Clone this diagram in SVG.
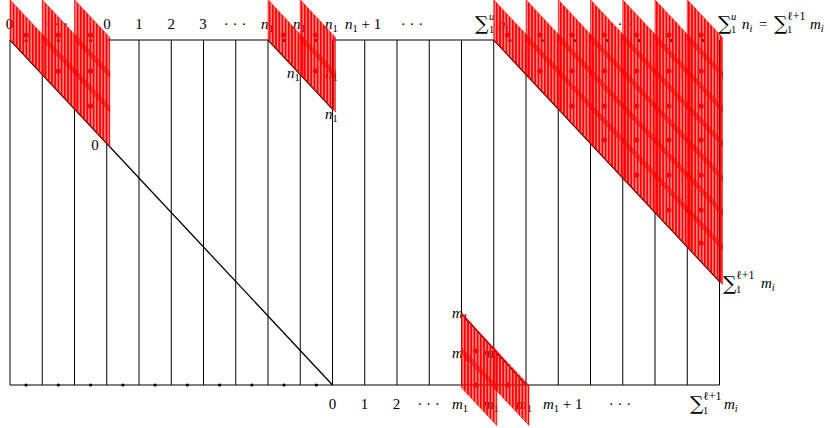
<svg xmlns="http://www.w3.org/2000/svg" width="830" height="428" viewBox="0 0 830 428">
<style>
.ln{stroke:#000;stroke-width:1;fill:none}
.dg{stroke:#000;stroke-width:1.3;fill:none}
.t{font-family:"Liberation Serif","Times New Roman",serif;font-size:15px;fill:#000}
.m{text-anchor:middle}
.i{font-style:italic}
.s{font-size:10.5px}
.sg{font-family:"DejaVu Serif",serif;font-size:19px}
.ds{font-family:"Liberation Serif","DejaVu Serif",serif;font-size:12px}
.cell{fill:url(#vs);stroke:#f00;stroke-width:0.6}
.rd{fill:#f00}
.bd{fill:#000}
</style>
<defs>
<pattern id="vs" patternUnits="userSpaceOnUse" width="3.2" height="4">
<rect width="3.2" height="4" fill="#f00" fill-opacity="0.5"/>
<rect width="1.6" height="4" fill="#f00"/>
</pattern>
</defs>
<rect width="830" height="428" fill="#fff"/>
<g id="connectors">
<path class="ln" d="M10,40V385 M42.25,74.5V385 M74.5,109V385 M106.75,40V385 M139,40V385 M171.25,40V385 M203.5,40V385 M235.75,40V385 M268,40V385 M300.25,74.5V385 M332.5,40V385 M364.75,40V385 M397,40V385 M429.25,40V385 M461.5,40V385 M493.75,40V385 M526,74.5V385 M558.25,109V385 M590.5,143.5V385 M622.75,178V385 M655,212.5V385 M687.25,247V385 M719.5,40V385"/>
<path class="ln" d="M106.75,40H268 M332.5,40H493.75 M10,385H719.5"/>
<path class="dg" d="M10,40L332.5,385 M268,40L332.5,109 M493.75,40L719.5,281.5 M461.5,313.5L526,385"/>
</g>
<g id="black-dots" class="bd">
<circle cx="26.1" cy="385" r="1.6"/><circle cx="58.35" cy="385" r="1.6"/><circle cx="90.6" cy="385" r="1.6"/><circle cx="122.85" cy="385" r="1.6"/><circle cx="155.1" cy="385" r="1.6"/><circle cx="187.35" cy="385" r="1.6"/><circle cx="219.6" cy="385" r="1.6"/><circle cx="251.85" cy="385" r="1.6"/><circle cx="284.1" cy="385" r="1.6"/><circle cx="316.35" cy="385" r="1.6"/>
<circle cx="26.1" cy="40.5" r="1.6"/><circle cx="58.35" cy="40.5" r="1.6"/><circle cx="90.6" cy="40.5" r="1.6"/><circle cx="284.1" cy="40.5" r="1.6"/><circle cx="316.35" cy="40.5" r="1.6"/>
<circle cx="509.9" cy="40.5" r="1.6"/><circle cx="542.15" cy="40.5" r="1.6"/><circle cx="574.4" cy="40.5" r="1.6"/><circle cx="606.65" cy="40.5" r="1.6"/><circle cx="638.9" cy="40.5" r="1.6"/><circle cx="671.15" cy="40.5" r="1.6"/><circle cx="703.4" cy="40.5" r="1.6"/>
</g>
<g id="labels">
<text class="t m" x="9.5" y="29">0</text>
<text class="t m" x="57" y="29">· · ·</text>
<text class="t m" x="107" y="29">0</text>
<text class="t m" x="139" y="29">1</text>
<text class="t m" x="171.25" y="29">2</text>
<text class="t m" x="203" y="29">3</text>
<text class="t m" x="235" y="29">· · ·</text>
<text class="t" x="261" y="29"><tspan class="i">n</tspan><tspan class="s" dy="3">1</tspan></text>
<text class="t" x="293" y="29"><tspan class="i">n</tspan><tspan class="s" dy="3">1</tspan></text>
<text class="t" x="325" y="29"><tspan class="i">n</tspan><tspan class="s" dy="3">1</tspan></text>
<text class="t" x="345" y="29"><tspan class="i">n</tspan><tspan class="s" dy="3">1</tspan><tspan dy="-3"> + 1</tspan></text>
<text class="t m" x="412" y="29">· · ·</text>
<text class="t sg" x="475" y="30">∑</text>
<text class="t s i" x="489" y="20">u</text>
<text class="t s" x="489" y="33">1</text>
<text class="t" x="498" y="29"><tspan class="i">n</tspan><tspan class="s i" dy="3">i</tspan></text>
<text class="t m" x="620" y="29">· · ·</text>
<text class="t sg" x="718" y="30">∑</text>
<text class="t s i" x="731" y="20">u</text>
<text class="t s" x="731" y="33">1</text>
<text class="t" x="742" y="29"><tspan class="i">n</tspan><tspan class="s i" dy="3">i</tspan></text>
<text class="t" x="759" y="29">=</text>
<text class="t sg" x="774" y="30">∑</text>
<text class="t ds" x="787" y="20">ℓ+1</text>
<text class="t s" x="787" y="33">1</text>
<text class="t" x="810" y="29"><tspan class="i">m</tspan><tspan class="s i" dy="3">i</tspan></text>
<text class="t m" x="95" y="150">0</text>
<text class="t" x="287" y="78"><tspan class="i">n</tspan><tspan class="s" dy="3">1</tspan></text>
<text class="t" x="325" y="78"><tspan class="i">n</tspan><tspan class="s" dy="3">1</tspan></text>
<text class="t" x="325" y="119"><tspan class="i">n</tspan><tspan class="s" dy="3">1</tspan></text>
<text class="t sg" x="723" y="290">∑</text>
<text class="t ds" x="736" y="279">ℓ+1</text>
<text class="t s" x="736" y="293">1</text>
<text class="t" x="761" y="288"><tspan class="i">m</tspan><tspan class="s i" dy="3">i</tspan></text>
<text class="t" x="452" y="318"><tspan class="i">m</tspan><tspan class="s" dy="3">1</tspan></text>
<text class="t" x="452" y="358"><tspan class="i">m</tspan><tspan class="s" dy="3">1</tspan></text>
<text class="t" x="483" y="358"><tspan class="i">m</tspan><tspan class="s" dy="3">1</tspan></text>
<text class="t m" x="332.5" y="409">0</text>
<text class="t m" x="364.5" y="409">1</text>
<text class="t m" x="396.5" y="409">2</text>
<text class="t m" x="428.5" y="409">· · ·</text>
<text class="t" x="452" y="409"><tspan class="i">m</tspan><tspan class="s" dy="3">1</tspan></text>
<text class="t" x="483" y="409"><tspan class="i">m</tspan><tspan class="s" dy="3">1</tspan></text>
<text class="t" x="516" y="409"><tspan class="i">m</tspan><tspan class="s" dy="3">1</tspan></text>
<text class="t" x="543" y="409"><tspan class="i">m</tspan><tspan class="s" dy="3">1</tspan><tspan dy="-3"> + 1</tspan></text>
<text class="t m" x="620" y="409">· · ·</text>
<text class="t sg" x="690" y="410">∑</text>
<text class="t ds" x="703" y="400">ℓ+1</text>
<text class="t s" x="703" y="414">1</text>
<text class="t" x="724" y="409"><tspan class="i">m</tspan><tspan class="s i" dy="3">i</tspan></text>
</g>
<g id="shade-left">
<polygon class="cell" points="10,-0.25 45.25,37.46 45.25,77.46 10,39.75"/>
<polygon class="cell" points="42.25,-0.25 77.5,37.46 77.5,77.46 42.25,39.75"/>
<polygon class="cell" points="42.25,34.25 77.5,71.96 77.5,111.96 42.25,74.25"/>
<polygon class="cell" points="74.5,-0.25 109.75,37.46 109.75,77.46 74.5,39.75"/>
<polygon class="cell" points="74.5,34.25 109.75,71.96 109.75,111.96 74.5,74.25"/>
<polygon class="cell" points="74.5,68.75 109.75,106.46 109.75,146.46 74.5,108.75"/>
</g>
<g id="shade-mid">
<polygon class="cell" points="268,-0.25 303.25,37.46 303.25,77.46 268,39.75"/>
<polygon class="cell" points="300.25,-0.25 335.5,37.46 335.5,77.46 300.25,39.75"/>
<polygon class="cell" points="300.25,34.25 335.5,71.96 335.5,111.96 300.25,74.25"/>
</g>
<g id="shade-right">
<polygon class="cell" points="493.75,-0.25 529,37.46 529,77.46 493.75,39.75"/>
<polygon class="cell" points="526,-0.25 561.25,37.46 561.25,77.46 526,39.75"/>
<polygon class="cell" points="526,34.25 561.25,71.96 561.25,111.96 526,74.25"/>
<polygon class="cell" points="558.25,-0.25 593.5,37.46 593.5,77.46 558.25,39.75"/>
<polygon class="cell" points="558.25,34.25 593.5,71.96 593.5,111.96 558.25,74.25"/>
<polygon class="cell" points="558.25,68.75 593.5,106.46 593.5,146.46 558.25,108.75"/>
<polygon class="cell" points="590.5,-0.25 625.75,37.46 625.75,77.46 590.5,39.75"/>
<polygon class="cell" points="590.5,34.25 625.75,71.96 625.75,111.96 590.5,74.25"/>
<polygon class="cell" points="590.5,68.75 625.75,106.46 625.75,146.46 590.5,108.75"/>
<polygon class="cell" points="590.5,103.25 625.75,140.96 625.75,180.96 590.5,143.25"/>
<polygon class="cell" points="622.75,-0.25 658,37.46 658,77.46 622.75,39.75"/>
<polygon class="cell" points="622.75,34.25 658,71.96 658,111.96 622.75,74.25"/>
<polygon class="cell" points="622.75,68.75 658,106.46 658,146.46 622.75,108.75"/>
<polygon class="cell" points="622.75,103.25 658,140.96 658,180.96 622.75,143.25"/>
<polygon class="cell" points="622.75,137.75 658,175.46 658,215.46 622.75,177.75"/>
<polygon class="cell" points="655,-0.25 690.25,37.46 690.25,77.46 655,39.75"/>
<polygon class="cell" points="655,34.25 690.25,71.96 690.25,111.96 655,74.25"/>
<polygon class="cell" points="655,68.75 690.25,106.46 690.25,146.46 655,108.75"/>
<polygon class="cell" points="655,103.25 690.25,140.96 690.25,180.96 655,143.25"/>
<polygon class="cell" points="655,137.75 690.25,175.46 690.25,215.46 655,177.75"/>
<polygon class="cell" points="655,172.25 690.25,209.96 690.25,249.96 655,212.25"/>
<polygon class="cell" points="687.25,-0.25 722.5,37.46 722.5,77.46 687.25,39.75"/>
<polygon class="cell" points="687.25,34.25 722.5,71.96 722.5,111.96 687.25,74.25"/>
<polygon class="cell" points="687.25,68.75 722.5,106.46 722.5,146.46 687.25,108.75"/>
<polygon class="cell" points="687.25,103.25 722.5,140.96 722.5,180.96 687.25,143.25"/>
<polygon class="cell" points="687.25,137.75 722.5,175.46 722.5,215.46 687.25,177.75"/>
<polygon class="cell" points="687.25,172.25 722.5,209.96 722.5,249.96 687.25,212.25"/>
<polygon class="cell" points="687.25,206.75 722.5,244.46 722.5,284.46 687.25,246.75"/>
</g>
<g id="shade-bottom">
<polygon class="cell" points="461.5,313.25 496.75,350.96 496.75,390.96 461.5,353.25"/>
<polygon class="cell" points="461.5,347.75 496.75,385.46 496.75,425.46 461.5,387.75"/>
<polygon class="cell" points="493.75,347.75 529,385.46 529,425.46 493.75,387.75"/>
</g>
<g id="red-dots" class="rd">
<circle cx="26.1" cy="35" r="2.6"/>
<circle cx="58.35" cy="35" r="2.6"/><circle cx="58.35" cy="71" r="2.6"/>
<circle cx="90.6" cy="35" r="2.6"/><circle cx="90.6" cy="71" r="2.6"/><circle cx="90.6" cy="106" r="2.6"/>
<circle cx="283.3" cy="35" r="2.6"/>
<circle cx="315.5" cy="35" r="2.6"/><circle cx="315.5" cy="71" r="2.6"/>
<circle cx="507.6" cy="35" r="2.6"/>
<circle cx="539.85" cy="35" r="2.6"/><circle cx="539.85" cy="71" r="2.6"/>
<circle cx="572.1" cy="35" r="2.6"/><circle cx="572.1" cy="71" r="2.6"/><circle cx="572.1" cy="106" r="2.6"/>
<circle cx="604.35" cy="35" r="2.6"/><circle cx="604.35" cy="71" r="2.6"/><circle cx="604.35" cy="106" r="2.6"/><circle cx="604.35" cy="140" r="2.6"/>
<circle cx="636.6" cy="35" r="2.6"/><circle cx="636.6" cy="71" r="2.6"/><circle cx="636.6" cy="106" r="2.6"/><circle cx="636.6" cy="140" r="2.6"/><circle cx="636.6" cy="175" r="2.6"/>
<circle cx="668.85" cy="35" r="2.6"/><circle cx="668.85" cy="71" r="2.6"/><circle cx="668.85" cy="106" r="2.6"/><circle cx="668.85" cy="140" r="2.6"/><circle cx="668.85" cy="175" r="2.6"/><circle cx="668.85" cy="210" r="2.6"/>
<circle cx="701.1" cy="35" r="2.6"/><circle cx="701.1" cy="71" r="2.6"/><circle cx="701.1" cy="106" r="2.6"/><circle cx="701.1" cy="140" r="2.6"/><circle cx="701.1" cy="175" r="2.6"/><circle cx="701.1" cy="210" r="2.6"/><circle cx="701.1" cy="243" r="2.6"/>
<circle cx="475.7" cy="351" r="2.6"/><circle cx="475.7" cy="385" r="2.6"/><circle cx="507.8" cy="385" r="2.6"/>
</g>
</svg>
